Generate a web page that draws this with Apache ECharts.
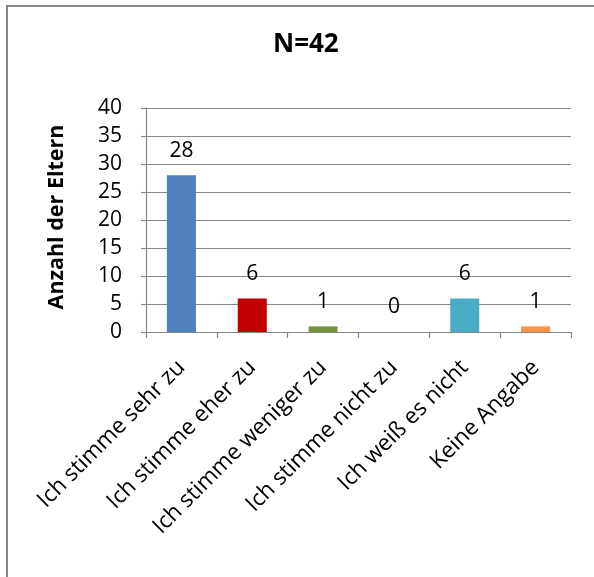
<!DOCTYPE html>
<html>
<head>
<meta charset="utf-8">
<script src="https://cdn.jsdelivr.net/npm/echarts@6/dist/echarts.min.js"></script>
<style>
  html, body { margin: 0; padding: 0; background: #ffffff; }
  #chart { width: 594px; height: 577px; }
</style>
</head>
<body>
<div id="chart"></div>
<script>
// Antworten der Eltern (N=42)
const categories = [
  'Ich stimme sehr zu',
  'Ich stimme eher zu',
  'Ich stimme weniger zu',
  'Ich stimme nicht zu',
  'Ich weiß es nicht',
  'Keine Angabe'
];
const counts = [28, 6, 1, 0, 6, 1];
const barColors = ['#4F81BD', '#C00000', '#77933C', '#4BACC6', '#4BACC6', '#F79646'];
const titleText = 'N=42';
const yAxisTitle = 'Anzahl der Eltern';

const FONT = '"Open Sans", "Liberation Sans", sans-serif';
const GRID_COLOR = '#868686';

const chart = echarts.init(document.getElementById('chart'), null, { renderer: 'canvas' });

chart.setOption({
  animation: false,
  backgroundColor: '#ffffff',
  title: {
    text: titleText,
    left: 268,
    top: 27,
    textStyle: { fontFamily: FONT, fontSize: 26, fontWeight: 'bold', color: '#000' }
  },
  graphic: [{
    type: 'rect',
    shape: { x: 7, y: 6, width: 640, height: 640 },
    style: { fill: 'none', stroke: '#868686', lineWidth: 2 },
    silent: true
  }, {
    type: 'text',
    x: 57,
    y: 217,
    rotation: Math.PI / 2,
    style: {
      text: yAxisTitle,
      fontFamily: FONT,
      fontSize: 21.5,
      fontWeight: 'bold',
      fill: '#000',
      align: 'center',
      verticalAlign: 'middle'
    },
    silent: true
  }],
  grid: { left: 146, right: 23, top: 108, bottom: 245 },
  xAxis: {
    type: 'category',
    data: categories,
    boundaryGap: true,
    axisLine: { lineStyle: { color: GRID_COLOR, width: 1.2 } },
    axisTick: { show: true, length: 6, alignWithLabel: false, lineStyle: { color: GRID_COLOR, width: 1.2 } },
    axisLabel: {
      rotate: 45,
      interval: 0,
      margin: 32,
      fontFamily: FONT,
      fontSize: 22.5,
      color: '#000'
    }
  },
  yAxis: {
    type: 'value',
    min: 0,
    max: 40,
    interval: 5,
    axisLine: { show: true, lineStyle: { color: GRID_COLOR, width: 1.2 } },
    axisTick: { show: true, length: 5, lineStyle: { color: GRID_COLOR, width: 1.2 } },
    splitLine: { show: true, lineStyle: { color: GRID_COLOR, width: 1.2 } },
    axisLabel: { fontFamily: FONT, fontSize: 21, color: '#000', margin: 24 }
  },
  series: [{
    type: 'bar',
    data: counts.map((v, i) => ({ value: v, itemStyle: { color: barColors[i] } })),
    barWidth: '41%',
    label: {
      show: true,
      position: 'top',
      distance: 14,
      fontFamily: FONT,
      fontSize: 21,
      color: '#000'
    }
  }]
});
</script>
</body>
</html>
